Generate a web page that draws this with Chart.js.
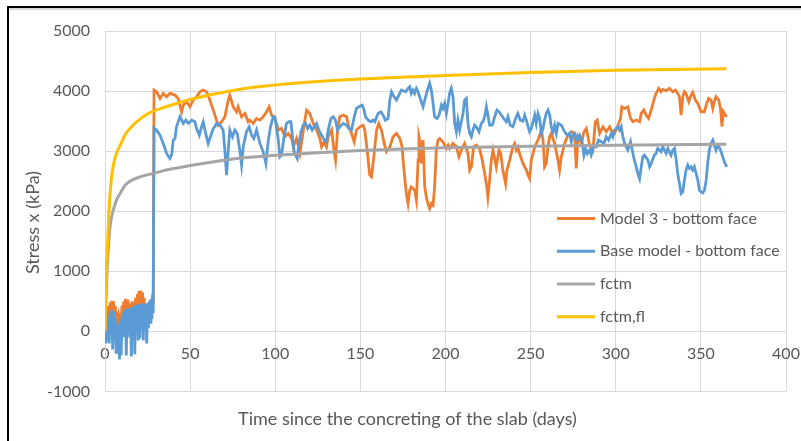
<!DOCTYPE html>
<html>
<head>
<meta charset="utf-8">
<script src="https://cdn.jsdelivr.net/npm/chart.js@4.4.0/dist/chart.umd.min.js"></script>
<style>
html,body{margin:0;padding:0;background:#fff;}
#wrap{position:relative;width:801px;height:441px;overflow:hidden;background:#fff;}
#c{position:absolute;left:0;top:0;}
.fr-top{position:absolute;left:7px;top:6px;width:794px;height:2px;background:#000;}
.fr-top2{position:absolute;left:9px;top:8px;width:792px;height:2px;background:#d9d9d9;}
.fr-left{position:absolute;left:7px;top:6px;width:2px;height:435px;background:#000;}
</style>
</head>
<body>
<div id="wrap">
<canvas id="c" width="801" height="441"></canvas>
<div class="fr-top"></div><div class="fr-top2"></div><div class="fr-left"></div>
</div>
<script>
// ---------- DATA ----------
const seriesNames = ["Model 3 - bottom face", "Base model - bottom face", "fctm", "fctm,fl"];
const xAxisTitle = "Time since the concreting of the slab (days)";
const yAxisTitle = "Stress x (kPa)";

const model3Days = [0,0.5,1,1.5,2,2.5,3,3.5,4,4.5,5,5.5,6,6.5,7,7.5,8,8.5,9,9.5,10,10.5,11,11.5,12,12.5,13,13.5,14,14.5,15,15.5,16,16.5,17,17.5,18,18.5,19,19.5,20,20.5,21,21.5,22,22.5,23,23.5,24,24.5,25,25.5,26,26.5,27,27.5,28,28.3,
28.8,30.3,32.3,34.2,36.2,38.1,41.1,43.0,45.0,46.0,47.9,49.9,51.8,53.8,55.7,57.7,59.7,61.6,63.6,65.5,66.5,68.5,70.4,72.4,73.3,75.3,77.3,78.2,80.2,82.2,84.1,85.1,87.0,89.0,91.0,92.9,94.9,96.4,97.8,99.8,
101.8,103.7,105.7,107.6,109.6,110.6,112.5,114.5,117.4,118.4,120.3,122.3,124.3,126.2,127.2,128.7,130.1,131.1,133.1,134.6,135.4,136.6,137.9,139.9,141.9,143.2,144.8,146.4,147.7,149.7,151.6,152.6,154.2,155.5,156.5,157.9,159.5,160.8,162.4,164.0,165.3,167.3,169.2,171.2,173.2,174.5,
175.1,176.0,177.0,178.0,179.0,179.9,181.9,182.9,183.9,184.4,185.2,185.8,186.8,187.8,188.7,189.7,190.7,191.7,192.7,193.6,194.6,195.6,196.6,198.5,200.5,201.5,202.4,204.4,206.4,207.9,209.3,211.2,213.2,214.2,215.2,216.5,218.1,220.0,221.6,223.0,224.3,224.9,225.9,226.9,227.9,229.8,231.4,232.4,233.7,235.3,236.1,237.7,239.6,240.6,241.6,242.5,243.5,245.5,246.5,
247.5,248.5,249.4,250.4,252.4,254.3,256.3,257.3,258.2,259.2,260.2,261.2,262.1,264.1,266.1,267.0,268.0,270.0,271.9,273.9,275.8,276.8,277.8,279.8,281.3,282.7,283.7,284.6,286.6,288.0,289.1,290.5,292.5,294.4,296.4,297.8,299.3,300.9,301.7,302.8,303.6,305.2,307.1,308.7,310.1,312.0,314.0,315.0,316.5,317.9,319.3,320.8,322.4,
323.7,325.3,326.6,327.6,329.6,331.5,333.5,335.1,336.4,337.4,338.4,339.4,340.3,341.3,342.9,344.3,345.2,346.8,348.2,350.1,352.1,353.4,354.6,356.0,357.0,357.9,358.9,360.5,361.5,362.4,363.2,364.4,365.2];
const model3Stress = [0,150,250,100,420,180,480,200,510,220,500,200,420,150,330,120,230,100,300,150,430,200,500,230,540,250,530,230,480,220,460,230,500,250,480,240,560,280,620,300,670,320,680,300,650,280,560,250,350,200,250,200,400,250,520,300,620,450,
4017,3989,3877,3961,3905,3961,3933,3877,3655,3766,3822,3738,3850,3905,3989,4017,3989,3850,3683,3516,3433,3489,3572,3850,3933,3738,3655,3738,3572,3627,3489,3516,3461,3544,3516,3572,3655,3738,3600,3550,
3350,3377,3239,3294,3211,3072,3211,2961,3516,3683,3627,3461,3350,3211,3072,3155,3072,3239,3350,2989,2850,3350,3572,3600,3572,3405,3294,3155,3350,3405,3433,3350,2961,2600,2572,2905,3350,3461,3350,3128,2989,3072,3239,3294,3211,3072,
2850,2572,2295,2128,2350,2406,2350,2184,2850,3239,3128,2795,3184,2406,2239,2128,2045,2128,2100,2406,3017,3184,3211,3156,3045,3100,3045,3128,3072,2906,3017,3128,2961,2683,2739,3072,3100,3045,2850,2628,2406,2239,2517,2850,3017,2739,3017,2961,2684,2461,2684,2850,3072,3128,3017,3072,2961,2795,2739,
2684,2600,2545,2850,3072,3184,3350,3184,2739,2795,3072,3239,3295,3128,2850,2684,2906,3128,3267,3322,3295,2711,3239,3128,3322,3378,3239,3100,3017,3489,3517,3295,3406,3322,3406,3322,3295,3406,3461,3545,3739,3711,3739,3545,3489,3517,3489,3628,3684,3600,3545,3684,3850,
3961,4045,3989,4028,4006,4045,3989,4017,3961,3906,3600,3906,3989,3961,3823,3934,3978,3850,3795,3656,3656,3795,3878,3850,3711,3823,3906,3850,3711,3406,3656,3600,3572];

const baseDays = [0,0.5,1,1.5,2,2.5,3,3.5,4,4.5,5,5.5,6,6.5,7,7.5,8,8.5,9,9.5,10,10.5,11,11.5,12,12.5,13,13.5,14,14.5,15,15.5,16,16.5,17,17.5,18,18.5,19,19.5,20,20.5,21,21.5,22,22.5,23,23.5,24,24.5,25,25.5,26,26.5,27,27.5,28,28.3,
28.8,30.3,32.3,34.2,36.2,38.1,39.1,40.1,41.1,42.0,44.0,45.0,46.0,47.5,48.9,50.9,52.8,53.8,55.4,56.7,57.7,58.7,60.6,61.6,63.6,64.5,65.5,67.5,69.4,70.4,71.4,72.4,73.3,74.9,76.3,77.7,79.2,80.2,81.2,83.1,84.7,86.1,87.4,89.0,91.0,92.9,94.5,95.8,97.2,98.8,99.8,
101.8,102.7,103.7,105.3,106.6,108.0,109.2,110.0,111.1,111.9,112.9,113.9,115.1,116.4,117.8,119.0,120.3,121.7,122.9,124.3,125.6,127.2,128.8,130.1,131.1,132.7,134.0,135.4,136.6,137.9,138.9,139.9,141.9,143.2,144.8,146.4,147.7,149.1,151.1,152.2,153.0,154.6,156.1,157.5,158.5,160.4,162.0,163.4,164.7,166.3,167.3,168.3,169.8,171.2,172.6,174.1,
176.6,178.0,179.0,179.9,180.9,181.9,182.9,183.9,184.8,185.8,186.8,187.8,189.1,190.7,191.7,192.7,193.6,195.0,196.2,197.6,198.5,199.5,200.5,201.5,202.4,203.4,204.4,205.4,206.4,207.3,208.3,209.3,210.3,211.2,212.2,213.2,214.2,215.2,216.1,217.1,218.1,219.7,221.0,222.0,223.0,224.0,224.9,225.9,227.5,228.9,230.2,231.4,232.8,234.1,235.7,236.7,238.0,239.6,241.2,242.5,243.9,245.5,246.5,
247.5,248.5,249.4,250.4,251.4,252.4,253.3,254.3,255.3,256.3,257.3,258.2,259.2,260.2,261.2,262.1,263.1,264.1,265.1,266.1,268.0,270.0,271.5,272.9,273.9,274.9,275.8,277.4,278.8,280.1,281.3,282.3,283.3,284.6,285.6,287.2,288.6,289.9,291.5,293.1,294.4,295.8,297.4,298.3,299.3,301.3,302.3,303.2,304.2,305.2,307.1,308.7,309.5,310.7,312.0,313.0,314.0,315.0,315.9,316.9,318.9,319.9,320.8,
322.7,323.7,324.7,325.7,326.6,327.6,328.6,329.6,330.6,331.5,332.5,333.5,334.5,335.5,336.4,337.4,338.4,339.4,340.3,341.3,342.3,343.3,344.3,345.2,346.2,347.2,348.2,349.1,350.1,351.1,352.1,353.1,354.0,355.0,356.0,357.0,357.9,358.9,359.9,360.9,361.9,362.8,363.8,365.2];
const baseStress = [-50,-200,70,-150,250,-200,330,-50,350,-300,320,-100,220,-350,120,-150,100,-470,180,-400,260,-100,320,-50,360,-400,370,0,380,-100,390,-420,410,-50,420,-380,430,50,440,-150,450,-120,460,100,470,-150,460,80,450,-200,470,50,500,150,540,200,570,300,
3380,3350,3267,3128,2961,2877,2933,3183,3211,3405,3572,3516,3461,3516,3461,3516,3489,3377,3266,3405,3489,3350,3128,3211,3377,3405,3461,3433,3350,3016,2600,3016,3350,3239,3350,3294,3016,2766,3072,3322,3405,3266,3211,3350,3128,2989,2794,3155,3405,3572,3572,
3183,2905,2933,3266,3461,3489,3489,3266,2989,2933,2877,3128,3322,3433,3461,3377,3433,3350,3405,3461,3350,3266,3183,3155,3350,3544,3572,3516,3350,3405,3433,3461,3433,3377,3350,3572,3711,3739,3766,3683,3572,3516,3489,3516,3489,3627,3655,3600,3516,3544,3850,3989,3905,3850,3933,4017,
3989,4045,4073,3961,4017,3961,4045,3989,3906,3823,3739,3850,3989,4128,4017,3795,3572,3545,3600,3767,3711,3795,3628,3795,3961,4045,3906,3461,3322,3517,3350,3489,3628,3850,3878,3461,3295,3239,3350,3434,3406,3322,3461,3489,3573,3739,3600,3434,3434,3573,3684,3656,3600,3545,3489,3573,3434,3406,3545,3628,3517,3500,3600,
3517,3406,3322,3378,3489,3600,3461,3628,3545,3295,3378,3517,3628,3684,3600,3406,3322,3434,3295,3461,3434,3322,3267,3295,3156,3267,3295,3184,3267,3184,2934,3045,2961,3017,2934,3100,3072,3184,3156,3128,3239,3184,3295,3239,3350,3406,3350,3406,3239,3128,3017,3156,3045,2878,2739,2628,2545,2739,2906,2934,2850,2739,2795,
2934,2961,3045,3017,2989,3072,3017,2961,3045,2989,2934,3017,3045,2850,2628,2461,2295,2322,2517,2684,2767,2711,2739,2684,2739,2628,2517,2350,2322,2306,2350,2517,2795,3017,3128,3183,3100,3017,3100,3061,2989,2906,2823,2739];

const fctmDays   = [0,0.5,1,2,3,4,5,7,9,12,16,20,24,28,35,50,75,100,125,150,175,200,250,300,365];
const fctmStress = [0,450,850,1400,1750,1920,2030,2200,2300,2440,2520,2565,2600,2625,2680,2760,2870,2930,2975,3010,3035,3055,3080,3100,3115];

const fctmFlDays   = [0,0.5,1,2,3,4,5,7,9,12,16,20,24,28,35,50,75,100,150,200,250,300,365];
const fctmFlStress = [0,650,1100,1800,2300,2600,2780,2980,3100,3280,3420,3520,3600,3660,3730,3860,4010,4100,4200,4260,4310,4345,4370];

// ---------- CHART ----------
function pts(xs, ys){ return xs.map((x,i)=>({x:x, y:ys[i]})); }

const sideLegend = {
  id: 'sideLegend',
  afterDraw(chart){
    const {ctx, chartArea} = chart;
    // y-axis title (drawn rotated at the left)
    ctx.save();
    ctx.font = '18px Lato';
    ctx.fillStyle = '#595959';
    ctx.textAlign = 'center';
    ctx.textBaseline = 'middle';
    ctx.translate(chartArea.left - 71.5, chartArea.top + 191.5);
    ctx.rotate(-Math.PI/2);
    ctx.fillText(yAxisTitle, 0, 0);
    ctx.restore();
    // legend
    const x0 = chartArea.right - 229, x1 = x0 + 38, tx = x1 + 5;
    const rows = [187.5, 220.3, 253, 285.8];
    ctx.save();
    ctx.font = '16px Lato';
    ctx.textBaseline = 'middle';
    ctx.textAlign = 'left';
    chart.data.datasets.forEach((ds,i)=>{
      const y = chartArea.top + rows[i];
      ctx.strokeStyle = ds.borderColor;
      ctx.lineWidth = 3;
      ctx.beginPath(); ctx.moveTo(x0,y); ctx.lineTo(x1,y); ctx.stroke();
      ctx.fillStyle = '#595959';
      ctx.fillText(ds.label, tx, y);
    });
    ctx.restore();
  }
};

const PAD_L = 29, PAD_R = 15;

function draw(){
  Chart.defaults.font.family = 'Lato';
  Chart.defaults.color = '#595959';
  new Chart(document.getElementById('c'), {
    type: 'line',
    data: {
      datasets: [
        {label: seriesNames[0], data: pts(model3Days, model3Stress), borderColor:'#ED7D31', borderWidth:2.8, pointRadius:0, order:4},
        {label: seriesNames[1], data: pts(baseDays, baseStress), borderColor:'#5B9BD5', borderWidth:2.8, pointRadius:0, order:3},
        {label: seriesNames[2], data: pts(fctmDays, fctmStress), borderColor:'#A5A5A5', borderWidth:3, pointRadius:0, cubicInterpolationMode:'monotone', order:2},
        {label: seriesNames[3], data: pts(fctmFlDays, fctmFlStress), borderColor:'#FFC000', borderWidth:3, pointRadius:0, cubicInterpolationMode:'monotone', order:1}
      ]
    },
    options: {
      responsive: false,
      animation: false,
      devicePixelRatio: 1,
      layout: {padding: {left: PAD_L, right: PAD_R, top: 31, bottom: 0}},
      plugins: {
        legend: {display: false},
        tooltip: {enabled: false},
        title: {display: true, position: 'bottom', text: xAxisTitle, color:'#595959',
                font: {size: 18, weight: 'normal', family: 'Lato'}, padding: {top: 17, bottom: 11}}
      },
      scales: {
        x: {
          type: 'linear', min: 0, max: 400,
          position: {y: 0},
          ticks: {stepSize: 50, padding: 13, color:'#595959', font:{size:16}, callback: v => String(v)},
          grid: {color:'#d9d9d9', drawTicks:false},
          border: {color:'#d9d9d9'},
          afterFit(s){ s.height = 0; s.paddingLeft = 0; s.paddingRight = 0; }
        },
        y: {
          min: -1000, max: 5000,
          ticks: {stepSize: 1000, padding: 15, color:'#595959', font:{size:16}, callback: v => String(v)},
          grid: {color:'#d9d9d9', drawTicks:false},
          border: {color:'#d9d9d9'},
          title: {display:false, text: yAxisTitle},
          afterFit(s){ s.width = 105 - PAD_L; s.paddingTop = 0; s.paddingBottom = 0; }
        }
      }
    },
    plugins: [sideLegend]
  });
}
if (document.fonts && document.fonts.load) {
  document.fonts.load('16px Lato').then(draw, draw);
} else { draw(); }
</script>
</body>
</html>
